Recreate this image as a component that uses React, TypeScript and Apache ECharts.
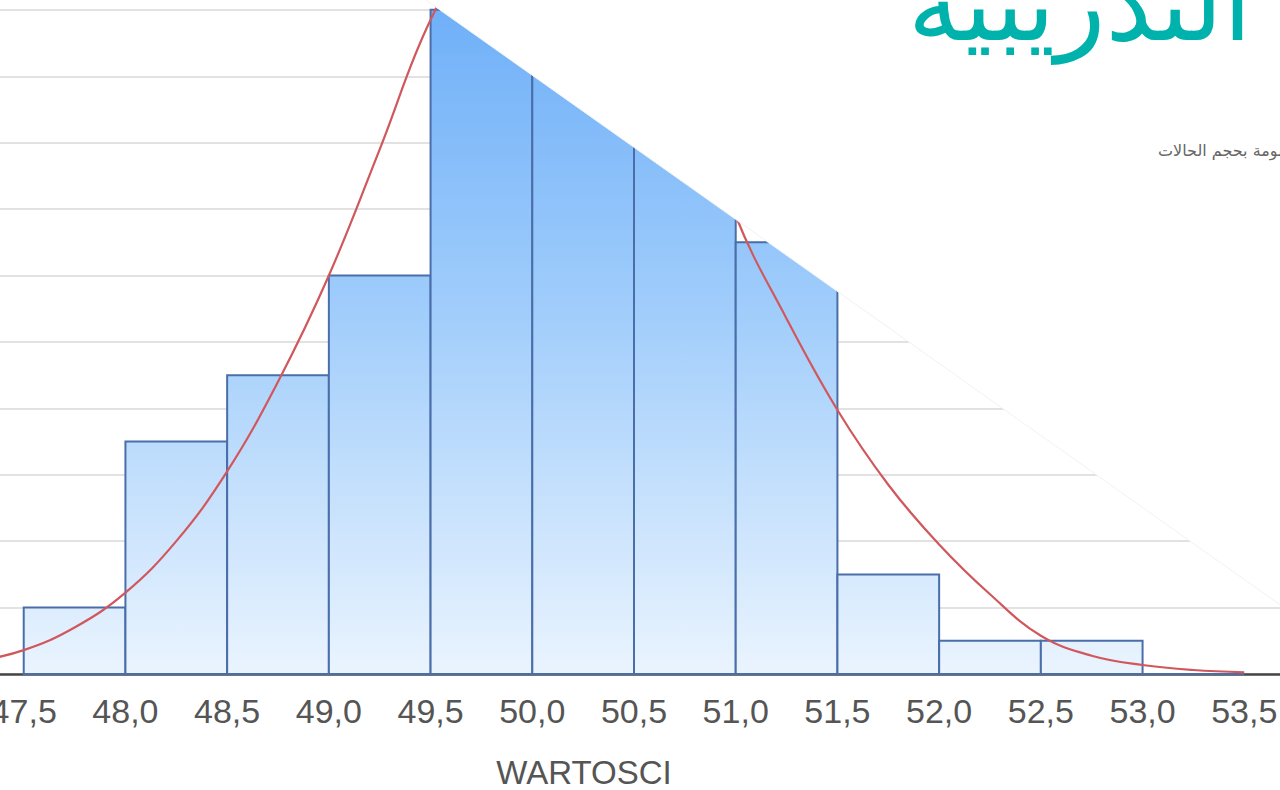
import React, { useEffect, useRef } from "react";
import * as echarts from "echarts";

// Histogram bins (lower edge) and counts
const binStarts = [47.5, 48.0, 48.5, 49.0, 49.5, 50.0, 50.5, 51.0, 51.5, 52.0, 52.5, 53.0];
const binWidth = 0.5;
const counts = [2, 7, 9, 12, 20, 22, 18, 13, 3, 1, 1, 0];

// Fitted normal curve
const curveX = [47.25, 47.5, 47.75, 48.0, 48.25, 48.5, 48.75, 49.0, 49.25, 49.5, 49.75, 50.0, 50.25, 50.5, 50.75, 51.0, 51.25, 51.5, 51.75, 52.0, 52.25, 52.5, 52.75, 53.0, 53.25, 53.5];
const curveY = [0.36, 0.72, 1.4, 2.45, 4.0, 6.1, 8.8, 12.0, 15.8, 19.7, 22.2, 23.5, 23.3, 21.6, 18.4, 13.8, 10.7, 7.95, 5.7, 3.9, 2.4, 1.15, 0.55, 0.27, 0.12, 0.05];

const titleText = "التدريبية";
const subtitleText = "مرسومة بحجم الحالات";
const xAxisName = "WARTOSCI";

// The chart canvas is larger than the page and shifted so the plot is cropped like the reference
const OFF_X = 78;
const OFF_Y = 123;
const CW = 1280 + OFF_X + 66;
const CH = 790 + OFF_Y;

export default function App() {
  const ref = useRef<HTMLDivElement>(null);

  useEffect(() => {
    if (!ref.current) return;
    const chart = echarts.init(ref.current, undefined, { renderer: "svg" });

    const barData = binStarts.map((s, i) => [s, s + binWidth, counts[i]]);
    const lineData = curveX.map((x, i) => [x, curveY[i]]);

    const fill = new echarts.graphic.LinearGradient(
      0, OFF_Y, 0, OFF_Y + 674,
      [
        { offset: 0, color: "#6eaff8" },
        { offset: 0.45, color: "#9fccfb" },
        { offset: 1, color: "#eaf4fe" },
      ],
      true
    );

    const px = (x: number) => x + OFF_X;
    const py = (y: number) => y + OFF_Y;

    chart.setOption({
      animation: false,
      backgroundColor: "#ffffff",
      grid: { left: 0, right: 0, top: 0, bottom: 116, containLabel: false, outerBoundsMode: "none" },
      xAxis: {
        type: "value",
        min: 47,
        max: 54,
        interval: 0.5,
        axisLine: { show: true, onZero: false, lineStyle: { color: "#444444", width: 2.5 } },
        axisTick: { show: false },
        splitLine: { show: false },
        axisLabel: {
          margin: 20,
          fontSize: 34,
          fontFamily: "Liberation Sans, Arial, sans-serif",
          color: "#555555",
          formatter: (v: number) => v.toFixed(1).replace(".", ","),
        },
      },
      yAxis: {
        type: "value",
        min: 0,
        max: 24,
        interval: 2,
        axisLine: { show: false },
        axisTick: { show: false },
        axisLabel: { show: false },
        splitLine: { show: true, lineStyle: { color: "#e2e2e2", width: 2 } },
      },
      series: [
        {
          type: "custom",
          data: barData,
          z: 2,
          renderItem: (params: any, api: any) => {
            const p0 = api.coord([api.value(0), api.value(2)]);
            const p1 = api.coord([api.value(1), 0]);
            return {
              type: "rect",
              shape: { x: p0[0], y: p0[1], width: p1[0] - p0[0], height: p1[1] - p0[1] },
              style: { fill: fill, stroke: "#4a6ea9", lineWidth: 2 },
            };
          },
        },
        {
          type: "line",
          data: lineData,
          smooth: 0.4,
          symbol: "none",
          z: 3,
          lineStyle: { color: "#d0585d", width: 2.2 },
        },
      ],
      graphic: [
        {
          type: "polygon",
          z: 100,
          shape: { points: [[px(420), py(-4.2)], [px(1300), py(-4.2)], [px(1300), py(619)]] },
          style: { fill: "#ffffff", stroke: "#f2f2f2", lineWidth: 1 },
        },
        {
          type: "text",
          z: 110,
          x: px(584),
          y: py(772),
          style: {
            text: xAxisName,
            fontSize: 33,
            fontFamily: "Liberation Sans, Arial, sans-serif",
            fill: "#555555",
            align: "center",
            verticalAlign: "middle",
          },
        },
        {
          type: "text",
          z: 110,
          x: px(1252),
          y: py(4),
          style: {
            text: titleText,
            fontSize: 104,
            fontFamily: "DejaVu Sans, sans-serif",
            fill: "#00b2ac",
            align: "right",
            verticalAlign: "middle",
          },
        },
        {
          type: "text",
          z: 110,
          x: px(1158),
          y: py(150),
          style: {
            text: subtitleText,
            fontSize: 16,
            fontFamily: "DejaVu Sans, sans-serif",
            fill: "#666666",
            align: "left",
            verticalAlign: "middle",
          },
        },
      ],
    });

    return () => chart.dispose();
  }, []);

  return (
    <div
      ref={ref}
      style={{ position: "fixed", left: -OFF_X, top: -OFF_Y, width: CW, height: CH }}
    />
  );
}
